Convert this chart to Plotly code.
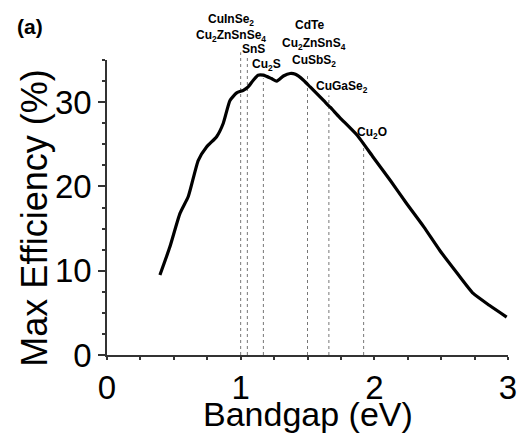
import plotly.graph_objects as go

# Curve: max efficiency vs bandgap
bandgap = [0.396, 0.47, 0.546, 0.608, 0.683, 0.746, 0.82, 0.87, 0.92, 0.97, 1.02, 1.056,
           1.094, 1.13, 1.17, 1.23, 1.27, 1.32, 1.37, 1.41, 1.47, 1.52, 1.62, 1.67, 1.74,
           1.87, 1.99, 2.12, 2.24, 2.37, 2.49, 2.62, 2.74, 2.86, 2.99]
efficiency = [9.5, 12.8, 16.8, 18.8, 23.1, 24.7, 25.9, 27.5, 30.2, 31.1, 31.4, 31.8,
              32.6, 33.2, 33.2, 32.8, 32.5, 33.1, 33.4, 33.3, 32.6, 31.8, 30.2, 29.4, 28.2,
              26.1, 23.5, 20.7, 18.0, 15.2, 12.4, 9.7, 7.3, 5.9, 4.5]

# Materials and their bandgaps
materials = ["CuInSe<sub>2</sub>", "Cu<sub>2</sub>ZnSnSe<sub>4</sub>", "SnS", "Cu<sub>2</sub>S",
             "CdTe", "Cu<sub>2</sub>ZnSnS<sub>4</sub>", "CuSbS<sub>2</sub>",
             "CuGaSe<sub>2</sub>", "Cu<sub>2</sub>O"]
material_gaps = [1.0, 1.0, 1.05, 1.17, 1.5, 1.5, 1.5, 1.66, 1.92]

x_title = "Bandgap (eV)"
y_title = "Max Efficiency (%)"
panel_label = "(a)"

# Layout helpers (label placement, line tops) in paper / pixel units
label_y = [1.137, 1.080, 1.036, 0.982, 1.117, 1.053, 0.995, 0.907, 0.752]
label_dx = [-10, -10, 6, 3, 2, 6, 6, 13, 8]
line_gaps = [1.0, 1.05, 1.17, 1.5, 1.66, 1.92]
line_tops = [1.026, 1.016, 0.938, 0.955, 0.88, 0.728]

fig = go.Figure()
fig.add_trace(go.Scatter(x=bandgap, y=efficiency, mode="lines",
                         line=dict(color="black", width=3.2, shape="spline", smoothing=0.5),
                         showlegend=False, hoverinfo="skip"))

for g, top in zip(line_gaps, line_tops):
    fig.add_shape(type="line", xref="x", yref="paper", x0=g, x1=g, y0=0, y1=top,
                  line=dict(color="#777777", width=1, dash="dot"), layer="below")

for name, g, yy, dx in zip(materials, material_gaps, label_y, label_dx):
    fig.add_annotation(x=g, y=yy, xref="x", yref="paper", text="<b>" + name + "</b>",
                       showarrow=False, xshift=dx, font=dict(size=12, color="black"),
                       xanchor="center", yanchor="middle")

fig.add_annotation(x=-0.192, y=1.114, xref="paper", yref="paper",
                   xanchor="center", yanchor="middle",
                   text="<b>" + panel_label + "</b>", showarrow=False,
                   font=dict(size=21, color="black"))

# Axis titles
fig.add_annotation(x=0.5, y=-0.2, xref="paper", yref="paper", xanchor="center",
                   yanchor="middle", text=x_title, showarrow=False,
                   font=dict(size=34, color="black"))
fig.add_annotation(x=-0.18, y=0.465, xref="paper", yref="paper", xanchor="center",
                   yanchor="middle", text=y_title, showarrow=False, textangle=-90,
                   font=dict(size=36, color="black"))

axis_common = dict(showline=True, linecolor="#333333", linewidth=1.5, ticks="outside",
                   tickwidth=1.5, tickcolor="#333333", showgrid=False,
                   zeroline=False, tickfont=dict(size=33, color="black"),
                   automargin=False)

fig.update_xaxes(range=[0, 3], dtick=1, tick0=0, ticklen=3,
                 minor=dict(dtick=0.25, ticks="outside", ticklen=3, tickcolor="#333333"),
                 **axis_common)
fig.update_yaxes(range=[0, 35], dtick=10, tick0=0, ticklen=7,
                 minor=dict(dtick=2.5, ticks="outside", ticklen=3, tickcolor="#333333"),
                 **axis_common)

fig.update_layout(width=519, height=434, margin=dict(l=107, r=11, t=60, b=79),
                  plot_bgcolor="white", paper_bgcolor="white",
                  font=dict(family="Liberation Sans, Arial, sans-serif", color="black"))

fig.write_html("out.html", config={"displayModeBar": False},
               post_script="document.body.style.margin='0px';"
                           "document.body.style.overflow='hidden';")
